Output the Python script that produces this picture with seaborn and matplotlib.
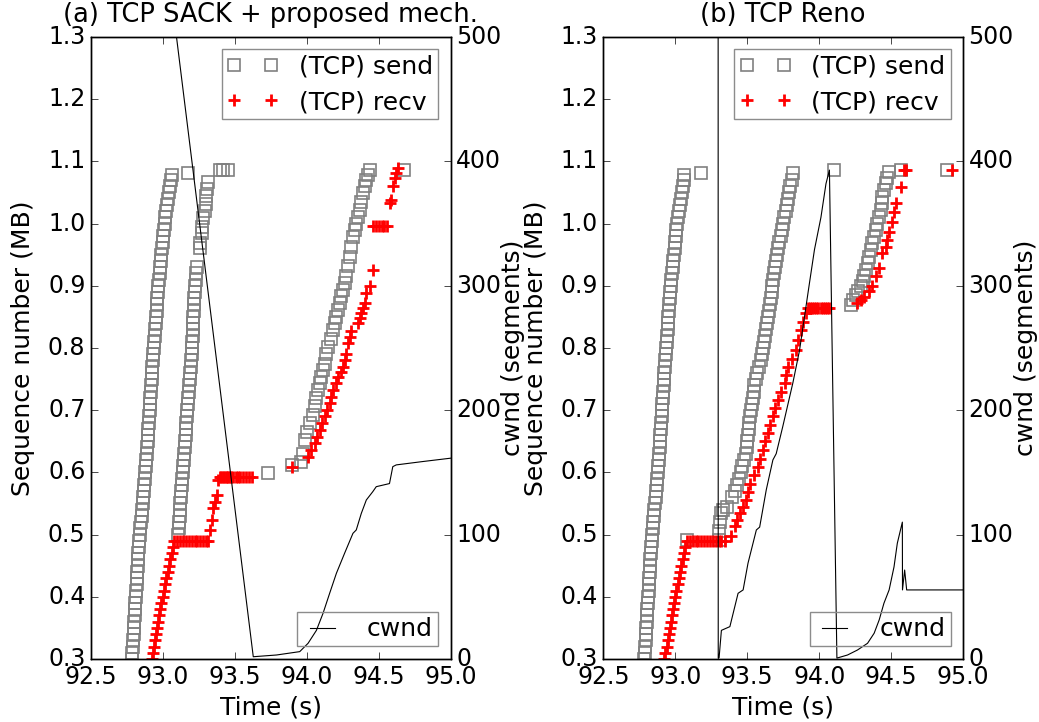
import matplotlib
matplotlib.use('Agg')
import matplotlib.pyplot as plt
import seaborn as sns

# ---- data ----
x_ticks = [92.5, 93.0, 93.5, 94.0, 94.5, 95.0]
seq_ticks = [0.3, 0.4, 0.5, 0.6, 0.7, 0.8, 0.9, 1.0, 1.1, 1.2, 1.3]
cwnd_ticks = [0, 100, 200, 300, 400, 500]
titles = ['(a) TCP SACK + proposed mech.', '(b) TCP Reno']

# first burst is the same in both runs
first_send_t = [92.785, 92.788, 92.790, 92.793, 92.796, 92.798, 92.801, 92.803, 92.806, 92.809,
                92.811, 92.814, 92.817, 92.819, 92.822, 92.824, 92.827, 92.830,
                92.833, 92.836, 92.840, 92.844, 92.847, 92.851, 92.854, 92.858, 92.862, 92.865,
                92.869, 92.872, 92.876, 92.880, 92.883, 92.887,
                92.890, 92.893, 92.896, 92.899, 92.902, 92.904, 92.907, 92.910, 92.913, 92.916,
                92.919, 92.922, 92.924, 92.927, 92.930, 92.933,
                92.936, 92.939, 92.943, 92.946, 92.949, 92.952, 92.956, 92.959, 92.962, 92.965, 92.969,
                92.973, 92.977, 92.981, 92.985, 92.990, 92.994, 92.998, 93.003, 93.007, 93.011, 93.015,
                93.022, 93.029, 93.036, 93.043, 93.050, 93.057, 93.062, 93.176]
first_send_seq = [0.30, 0.31, 0.32, 0.33, 0.34, 0.35, 0.36, 0.37, 0.38, 0.39,
                  0.40, 0.41, 0.42, 0.43, 0.44, 0.45, 0.46, 0.47,
                  0.48, 0.49, 0.50, 0.51, 0.52, 0.53, 0.54, 0.55, 0.56, 0.57,
                  0.58, 0.59, 0.60, 0.61, 0.62, 0.63,
                  0.64, 0.65, 0.66, 0.67, 0.68, 0.69, 0.70, 0.71, 0.72, 0.73,
                  0.74, 0.75, 0.76, 0.77, 0.78, 0.79,
                  0.80, 0.81, 0.82, 0.83, 0.84, 0.85, 0.86, 0.87, 0.88, 0.89, 0.90,
                  0.91, 0.92, 0.93, 0.94, 0.95, 0.96, 0.97, 0.98, 0.99, 1.00, 1.01,
                  1.02, 1.03, 1.04, 1.05, 1.06, 1.07, 1.078, 1.081]
first_recv_t = [92.924, 92.931, 92.939, 92.946, 92.953, 92.960, 92.968, 92.975, 92.982, 92.989,
                92.997, 93.006, 93.015, 93.023, 93.032, 93.041, 93.051, 93.060, 93.070, 93.080,
                93.100, 93.120, 93.140, 93.160, 93.180, 93.200, 93.220, 93.240, 93.260, 93.280, 93.300]
first_recv_seq = [0.30, 0.31, 0.32, 0.33, 0.34, 0.35, 0.36, 0.37, 0.38, 0.39,
                  0.40, 0.41, 0.42, 0.43, 0.44, 0.45, 0.46, 0.47, 0.48, 0.489,
                  0.489, 0.489, 0.489, 0.489, 0.489, 0.489, 0.489, 0.489, 0.489, 0.489, 0.489]

# (a) SACK + proposed
a_send2_t = [93.107, 93.110, 93.113, 93.116, 93.119, 93.122, 93.125, 93.128, 93.131, 93.135,
             93.138, 93.141, 93.144, 93.147, 93.150, 93.153, 93.157, 93.160, 93.163, 93.166,
             93.169, 93.173, 93.176, 93.179, 93.182, 93.186, 93.189, 93.192, 93.196, 93.199,
             93.202, 93.204, 93.206, 93.208, 93.210, 93.212, 93.215, 93.217, 93.219, 93.221,
             93.223, 93.227, 93.233, 93.238,
             93.256, 93.260, 93.270, 93.274, 93.281, 93.295, 93.299, 93.302, 93.306, 93.316,
             93.395, 93.420, 93.455, 93.732]
a_send2_seq = [0.50, 0.51, 0.52, 0.53, 0.54, 0.55, 0.56, 0.57, 0.58, 0.59,
               0.60, 0.61, 0.62, 0.63, 0.64, 0.65, 0.66, 0.67, 0.68, 0.69,
               0.70, 0.71, 0.72, 0.73, 0.74, 0.75, 0.76, 0.77, 0.78, 0.79,
               0.80, 0.81, 0.82, 0.83, 0.84, 0.85, 0.86, 0.87, 0.88, 0.89,
               0.90, 0.91, 0.92, 0.93,
               0.960, 0.968, 0.985, 0.995, 1.009, 1.020, 1.032, 1.045, 1.055, 1.067,
               1.086, 1.086, 1.086, 0.599]
a_send3_t = [93.894, 93.963, 93.975, 93.986, 94.000, 94.021, 94.040, 94.055, 94.066, 94.078,
             94.090, 94.102, 94.113, 94.125, 94.136, 94.148, 94.165, 94.182, 94.194, 94.206,
             94.218, 94.229, 94.240, 94.252, 94.263, 94.275, 94.286, 94.298, 94.310, 94.321,
             94.333, 94.344, 94.355, 94.367, 94.378, 94.390, 94.402, 94.414, 94.425, 94.437, 94.679]
a_send3_seq = [0.612, 0.617, 0.630, 0.652, 0.665, 0.679, 0.693, 0.706, 0.719, 0.732,
               0.743, 0.754, 0.765, 0.775, 0.790, 0.802, 0.815, 0.829, 0.840, 0.850,
               0.861, 0.872, 0.883, 0.893, 0.904, 0.915, 0.931, 0.947, 0.963, 0.979,
               0.990, 1.000, 1.011, 1.022, 1.035, 1.049, 1.060, 1.070, 1.078, 1.086, 1.086]
a_recv2_t = [93.316, 93.328, 93.340, 93.351, 93.362, 93.375, 93.385,
             93.395, 93.405, 93.415, 93.425, 93.435, 93.445, 93.455, 93.465, 93.475, 93.490, 93.505,
             93.520, 93.536, 93.555, 93.575, 93.595, 93.617]
a_recv2_seq = [0.489, 0.507, 0.523, 0.542, 0.553, 0.564, 0.588,
               0.593, 0.593, 0.593, 0.593, 0.593, 0.593, 0.593, 0.593, 0.593, 0.593, 0.593,
               0.593, 0.593, 0.593, 0.593, 0.593, 0.593]
a_recv3_t = [93.894, 94.009, 94.030, 94.055, 94.072, 94.090, 94.107, 94.125, 94.142, 94.160,
             94.171, 94.182, 94.200, 94.217, 94.235, 94.252, 94.264, 94.275, 94.286, 94.298,
             94.310, 94.356, 94.367, 94.379, 94.390, 94.402, 94.414, 94.437, 94.460, 94.462,
             94.480, 94.500, 94.520, 94.540, 94.560, 94.576, 94.587, 94.600, 94.610, 94.622, 94.633]
a_recv3_seq = [0.609, 0.625, 0.636, 0.647, 0.657, 0.668, 0.679, 0.690, 0.700, 0.711,
               0.721, 0.732, 0.743, 0.754, 0.762, 0.770, 0.781, 0.791, 0.808, 0.818,
               0.828, 0.840, 0.848, 0.856, 0.864, 0.872, 0.888, 0.899, 0.925, 0.996,
               0.996, 0.996, 0.996, 0.996, 0.996, 1.033, 1.038, 1.060, 1.073, 1.081, 1.089]
a_cwnd_t = [93.030, 93.628, 93.790, 93.951, 94.009, 94.067, 94.113, 94.159, 94.206, 94.263, 94.321,
            94.344, 94.379, 94.414, 94.459, 94.483, 94.575, 94.598, 94.622, 94.806, 95.000]
a_cwnd = [560, 1.8, 3.2, 5.9, 12.6, 23, 36.7, 52.8, 68.9, 85, 101,
          103.7, 117, 127.8, 134.5, 138.5, 141, 154.6, 156, 158.7, 161.4]

# (b) Reno
b_send2_t = [93.078, 93.300, 93.305, 93.312, 93.320, 93.330, 93.360,
             93.396, 93.412, 93.427, 93.443, 93.455, 93.466, 93.477, 93.488, 93.496, 93.500,
             93.504, 93.509, 93.513, 93.517, 93.524, 93.530, 93.537, 93.544, 93.550, 93.559,
             93.570, 93.581, 93.592, 93.602, 93.612, 93.618, 93.625, 93.631, 93.638, 93.644,
             93.650, 93.657, 93.663, 93.669, 93.675, 93.682, 93.688, 93.695, 93.701, 93.708,
             93.715, 93.723, 93.732, 93.741, 93.749, 93.758, 93.766, 93.774, 93.782, 93.790,
             93.799, 93.808, 93.817, 94.100]
b_send2_seq = [0.492, 0.492, 0.505, 0.520, 0.535, 0.540, 0.545,
               0.56, 0.57, 0.58, 0.59, 0.60, 0.61, 0.62, 0.63, 0.64, 0.65,
               0.66, 0.67, 0.68, 0.69, 0.70, 0.71, 0.72, 0.73, 0.74, 0.75,
               0.76, 0.77, 0.78, 0.79, 0.80, 0.81, 0.82, 0.83, 0.84, 0.85,
               0.86, 0.87, 0.88, 0.89, 0.90, 0.91, 0.92, 0.93, 0.94, 0.95,
               0.96, 0.97, 0.98, 0.99, 1.00, 1.01, 1.02, 1.03, 1.04, 1.05,
               1.06, 1.07, 1.081, 1.086]
b_send3_t = [94.220, 94.237, 94.255, 94.272, 94.289, 94.301, 94.313, 94.325, 94.336, 94.347,
             94.358, 94.370, 94.382, 94.393, 94.405, 94.416, 94.428, 94.434, 94.439, 94.450,
             94.462, 94.474, 94.486, 94.566, 94.889]
b_send3_seq = [0.869, 0.877, 0.885, 0.892, 0.899, 0.907, 0.915, 0.926, 0.936, 0.947,
               0.958, 0.969, 0.979, 0.990, 1.000, 1.011, 1.022, 1.033, 1.043, 1.054,
               1.065, 1.074, 1.083, 1.086, 1.086]
b_recv2_t = [93.320, 93.343, 93.390, 93.413, 93.430, 93.448, 93.470, 93.494, 93.505, 93.517,
             93.545, 93.574, 93.590, 93.609, 93.626, 93.644, 93.660, 93.678, 93.695, 93.713,
             93.736, 93.759, 93.770, 93.782, 93.810, 93.839, 93.856, 93.874, 93.890, 93.909,
             93.920, 93.935, 93.950, 93.965, 93.980, 93.995, 94.010, 94.025, 94.040, 94.055, 94.070]
b_recv2_seq = [0.489, 0.489, 0.497, 0.513, 0.524, 0.534, 0.545, 0.556, 0.569, 0.582,
               0.595, 0.609, 0.622, 0.636, 0.650, 0.663, 0.676, 0.690, 0.703, 0.716,
               0.730, 0.743, 0.756, 0.770, 0.783, 0.797, 0.813, 0.829, 0.842, 0.856,
               0.864, 0.864, 0.864, 0.864, 0.864, 0.864, 0.864, 0.864, 0.864, 0.864, 0.864]
b_recv3_t = [94.266, 94.290, 94.313, 94.347, 94.370, 94.393, 94.417, 94.439, 94.462,
             94.474, 94.486, 94.509, 94.520, 94.532, 94.566, 94.590, 94.600, 94.924]
b_recv3_seq = [0.872, 0.877, 0.882, 0.891, 0.899, 0.915, 0.928, 0.952, 0.963,
               0.974, 0.987, 1.003, 1.019, 1.033, 1.059, 1.086, 1.086, 1.086]
b_cwnd_t = [93.297, 93.298, 93.304, 93.320, 93.379, 93.436, 93.471, 93.505, 93.563, 93.586,
            93.632, 93.678, 93.701, 93.747, 93.817, 93.863, 93.932, 93.967, 94.012, 94.047,
            94.071, 94.123, 94.197, 94.266, 94.336, 94.382, 94.417, 94.450, 94.486, 94.520,
            94.543, 94.578, 94.579, 94.594, 94.608, 95.000]
b_cwnd = [800, 0.5, 1, 23, 26, 52.8, 55.5, 77, 103.7, 106,
          136, 160, 165, 187, 222, 248, 302, 329, 355, 382,
          393, 0.7, 3.2, 7.2, 12.6, 20.7, 31.4, 44.8, 55.5, 74,
          93, 110, 55.5, 71.5, 55.5, 55.5]

panels = [
    (first_send_t + a_send2_t + a_send3_t, first_send_seq + a_send2_seq + a_send3_seq,
     first_recv_t + a_recv2_t + a_recv3_t, first_recv_seq + a_recv2_seq + a_recv3_seq,
     a_cwnd_t, a_cwnd),
    (first_send_t + b_send2_t + b_send3_t, first_send_seq + b_send2_seq + b_send3_seq,
     first_recv_t + b_recv2_t + b_recv3_t, first_recv_seq + b_recv2_seq + b_recv3_seq,
     b_cwnd_t, b_cwnd),
]

# ---- old matplotlib look ----
plt.style.use('classic')
plt.rcParams.update({
    'figure.facecolor': 'white',
    'savefig.facecolor': 'white',
    'font.family': ['DejaVu Sans'],
    'font.size': 18,
    'xtick.labelsize': 17,
    'ytick.labelsize': 17,
    'xtick.major.size': 5,
    'ytick.major.size': 5,
    'xtick.minor.size': 0,
    'ytick.minor.size': 0,
})

fig, axes = plt.subplots(1, 2, figsize=(10.39, 7.22), dpi=100)
fig.subplots_adjust(left=0.0876, right=0.9269, bottom=0.0873, top=0.9488, wspace=0.425)

for ax, title, (st, ss, rt, rs, ct, cw) in zip(axes, titles, panels):
    sns.lineplot(x=st, y=ss, ax=ax, estimator=None, sort=False, linestyle='',
                 marker='s', markersize=8, markerfacecolor='none',
                 markeredgecolor='gray', markeredgewidth=1.2, color='gray',
                 label='(TCP) send')
    sns.lineplot(x=rt, y=rs, ax=ax, estimator=None, sort=False, linestyle='',
                 marker='+', markersize=8.5, markeredgecolor='red',
                 markeredgewidth=2.0, color='red', label='(TCP) recv')
    ax.set_xlim(92.5, 95.0)
    ax.set_ylim(0.3, 1.3)
    ax.set_xticks(x_ticks)
    ax.set_yticks(seq_ticks)
    ax.set_xlabel('Time (s)', fontsize=18)
    ax.set_ylabel('Sequence number (MB)', fontsize=18, labelpad=9)
    ax.set_title(title, fontsize=18.5, pad=11)
    ax.tick_params(direction='in', top=True)
    leg = ax.legend(loc='upper right', bbox_to_anchor=(1.0, 1.0), numpoints=2, fontsize=18,
                    borderpad=0.2, handlelength=2.08, handletextpad=0.8, labelspacing=0.47,
                    fancybox=False)
    leg.get_frame().set_edgecolor('0.55')

    ax2 = ax.twinx()
    sns.lineplot(x=ct, y=cw, ax=ax2, estimator=None, sort=False, color='black',
                 linewidth=0.8, label='cwnd')
    ax2.set_ylim(0, 500)
    ax2.set_yticks(cwnd_ticks)
    ax2.set_xlim(92.5, 95.0)
    ax2.set_ylabel('cwnd (segments)', fontsize=18, labelpad=0)
    ax2.tick_params(direction='in')
    leg2 = ax2.legend(loc='lower right', fontsize=18, borderpad=0.2, handlelength=1.6,
                      handletextpad=1.0, fancybox=False)
    leg2.get_frame().set_edgecolor('0.55')
    leg2.get_frame().set_facecolor('none')

fig.savefig('out.png', dpi=100)
